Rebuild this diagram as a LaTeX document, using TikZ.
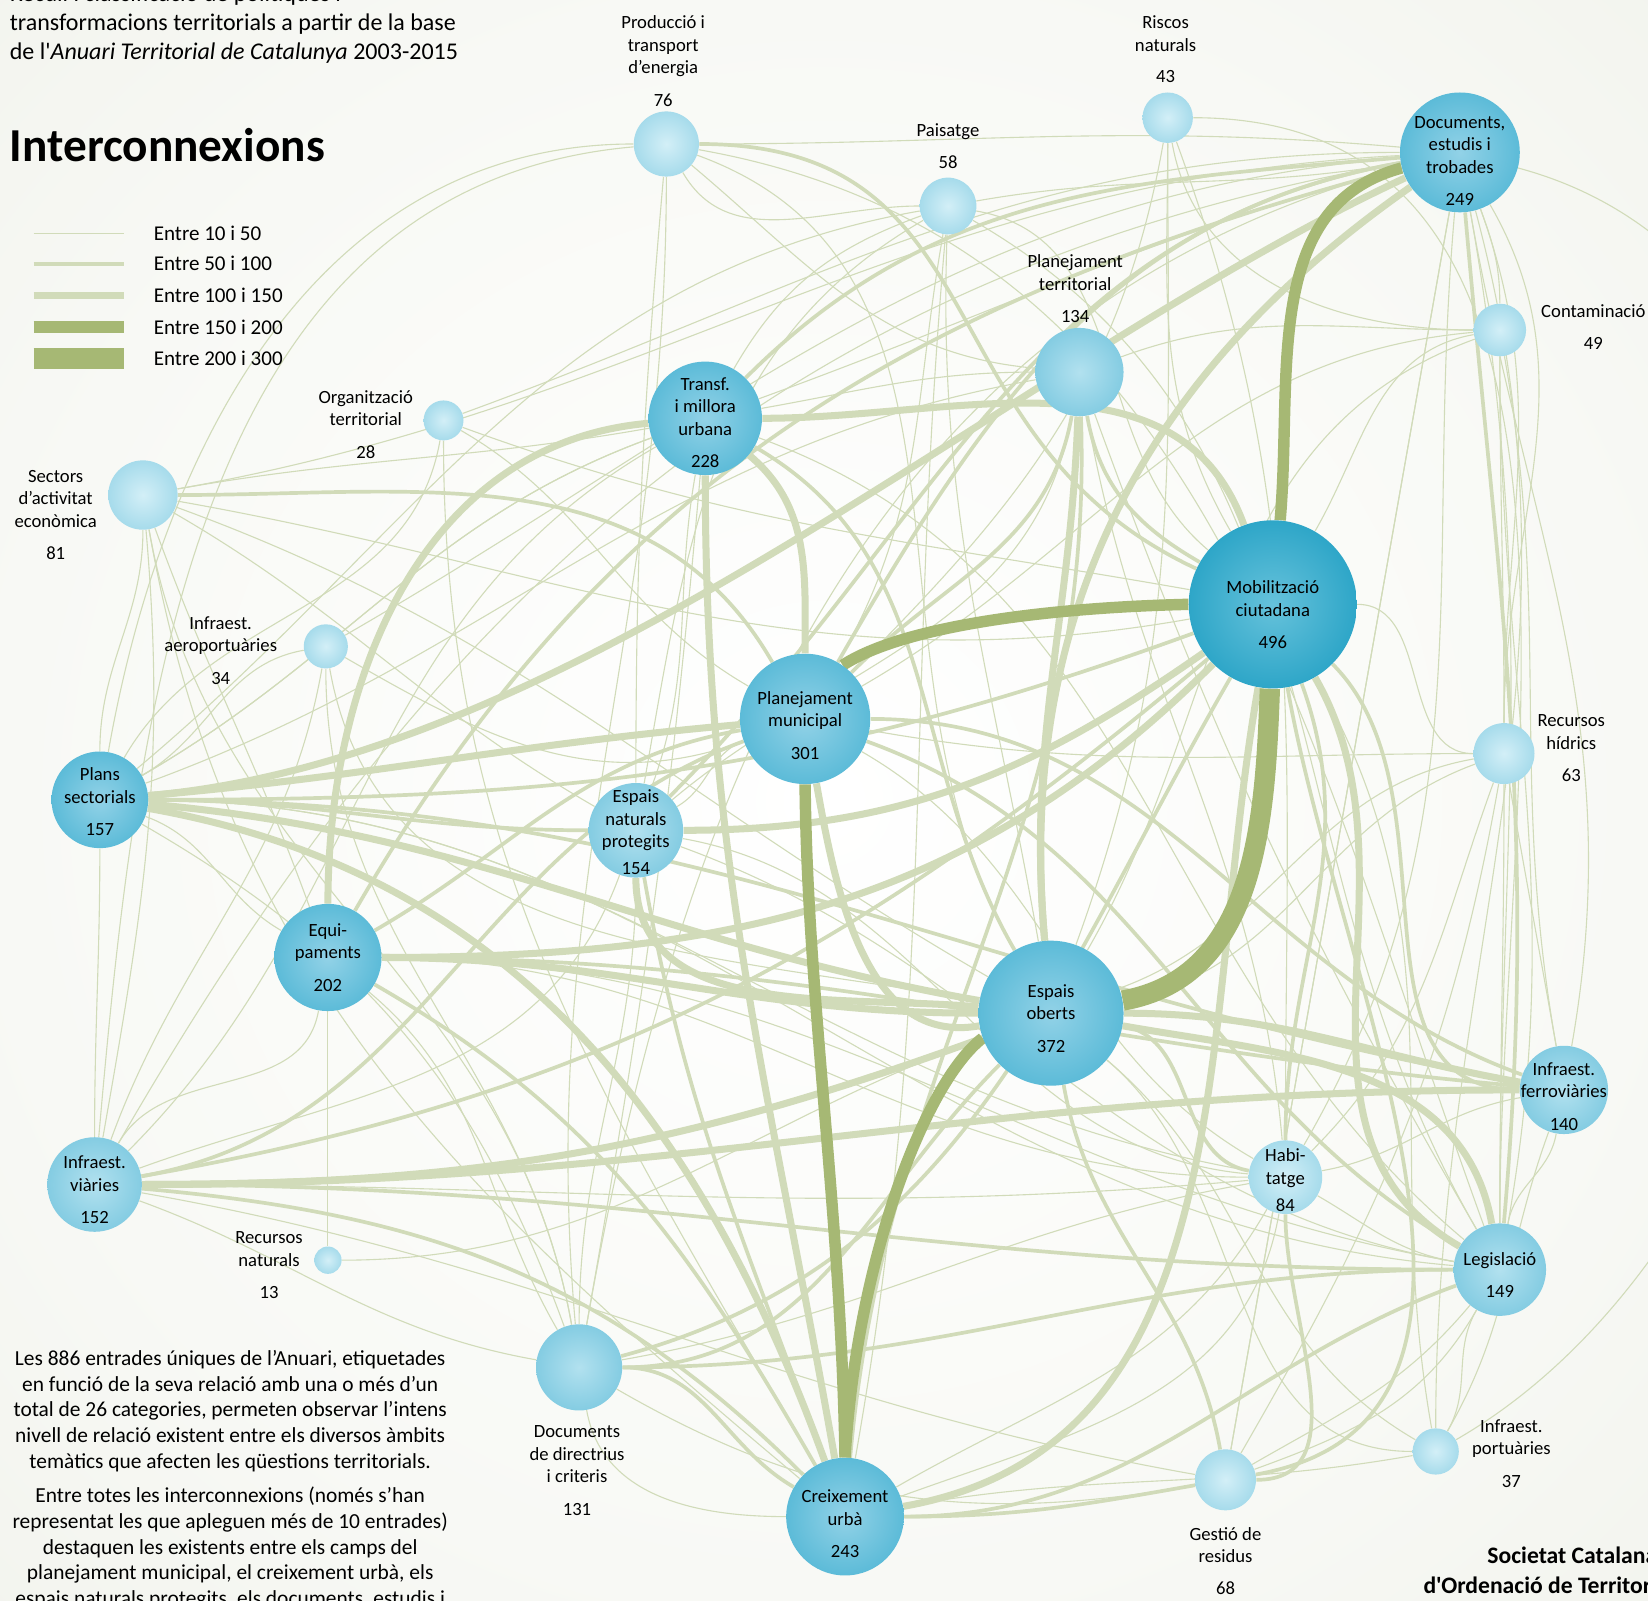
\documentclass[tikz,border=0pt]{standalone}
\usepackage{fontspec}
\setmainfont{Carlito}[Ligatures=TeXOff]

\definecolor{linkpale}{HTML}{D1DBB9}
\definecolor{linkdark}{HTML}{A6B874}
\definecolor{mobin}{HTML}{66C2DB}
\definecolor{mobout}{HTML}{2EA6C8}
\definecolor{bigin}{HTML}{92D2E7}
\definecolor{bigout}{HTML}{5CBBD8}
\definecolor{midin}{HTML}{B2E1EF}
\definecolor{midout}{HTML}{84CCE2}
\definecolor{smlin}{HTML}{D3EFF7}
\definecolor{smlout}{HTML}{A6DBEB}
\definecolor{papermid}{HTML}{F8F9F5}
\definecolor{paperedge}{HTML}{ECEEE6}

\pgfdeclareradialshading{paper}{\pgfpoint{0bp}{0bp}}{color(0bp)=(white); color(25bp)=(papermid); color(50bp)=(paperedge); color(72bp)=(paperedge)}

\pgfdeclarelayer{bg}
\pgfdeclarelayer{links}
\pgfsetlayers{bg,links,main}

\tikzset{
  l10/.style={draw=linkpale, line width=0.6pt},
  l50/.style={draw=linkpale, line width=2pt},
  l100/.style={draw=linkpale, line width=3.8pt},
  l150/.style={draw=linkdark, line width=6.2pt},
  l200/.style={draw=linkdark, line width=11pt},
  bub/.style={circle, draw=none, inner sep=0pt, shading=radial},
  hue1/.style={bub, inner color=mobin, outer color=mobout},
  hue2/.style={bub, inner color=bigin, outer color=bigout},
  hue3/.style={bub, inner color=midin, outer color=midout},
  hue4/.style={bub, inner color=smlin, outer color=smlout},
  tag/.style={align=center, inner sep=0pt, font=\fontsize{10.1}{12.2}\selectfont},
  keytxt/.style={anchor=west, inner sep=0pt, font=\fontsize{11.4}{13.5}\selectfont}
}

\begin{document}
\begin{tikzpicture}[x=0.02cm, y=-0.02cm]
\useasboundingbox (0,0) rectangle (1568,1523);

% categories
\node[hue4, minimum size=1.24cm] (ene) at (634,137) {};
\node[hue4, minimum size=1.08cm] (pai) at (902,196) {};
\node[hue4, minimum size=0.96cm] (ris) at (1111,112) {};
\node[hue2, minimum size=2.28cm] (doc) at (1389,145) {};
\node[hue4, minimum size=1.00cm] (con) at (1427,314) {};
\node[hue3, minimum size=1.68cm] (pte) at (1027,354) {};
\node[hue2, minimum size=2.16cm] (tra) at (671,398) {};
\node[hue4, minimum size=0.76cm] (org) at (422,400) {};
\node[hue4, minimum size=1.32cm] (sec) at (136,471) {};
\node[hue1, minimum size=3.20cm] (mob) at (1211,575) {};
\node[hue4, minimum size=0.84cm] (aer) at (310,615) {};
\node[hue2, minimum size=2.48cm] (pmu) at (766,684) {};
\node[hue4, minimum size=1.16cm] (hid) at (1431,717) {};
\node[hue2, minimum size=1.84cm] (psec) at (95,761) {};
\node[hue3, minimum size=1.80cm] (enp) at (605,790) {};
\node[hue2, minimum size=2.04cm] (equ) at (312,911) {};
\node[hue2, minimum size=2.76cm] (eob) at (1000,964) {};
\node[hue3, minimum size=1.68cm] (fer) at (1488,1037) {};
\node[hue3, minimum size=1.80cm] (via) at (90,1127) {};
\node[hue4, minimum size=1.40cm] (hab) at (1223,1120) {};
\node[hue4, minimum size=0.52cm] (rna) at (312,1199) {};
\node[hue3, minimum size=1.76cm] (leg) at (1427,1208) {};
\node[hue3, minimum size=1.64cm] (ddc) at (551,1301) {};
\node[hue2, minimum size=2.24cm] (cre) at (804,1443) {};
\node[hue4, minimum size=1.16cm] (res) at (1166,1408) {};
\node[hue4, minimum size=0.88cm] (por) at (1366,1381) {};

% texts inside the bubbles
\node[tag] (doc-t) at (1389,153) {Documents,\\estudis i\\trobades\\[5.4pt]249};
\node[tag] (tra-t) at (671,402) {Transf.\\i millora\\urbana\\[5.4pt]228};
\node[tag] (mob-t) at (1211,585) {Mobilització\\ciutadana\\[5.4pt]496};
\node[tag] (pmu-t) at (766,690) {Planejament\\municipal\\[5.4pt]301};
\node[tag] (psec-t) at (95,763) {Plans\\sectorials\\[5.4pt]157};
\node[tag] (enp-t) at (605,792) {Espais\\naturals\\protegits\\[2.6pt]154};
\node[tag] (equ-t) at (312,911) {Equi-\\paments\\[5.4pt]202};
\node[tag] (eob-t) at (1000,969) {Espais\\oberts\\[5.4pt]372};
\node[tag] (fer-t) at (1488,1043) {Infraest.\\ferroviàries\\[5.4pt]140};
\node[tag] (via-t) at (90,1132) {Infraest.\\viàries\\[5.4pt]152};
\node[tag] (hab-t) at (1223,1123) {Habi-\\tatge\\[2.6pt]84};
\node[tag] (leg-t) at (1427,1213) {Legislació\\[5.4pt]149};
\node[tag] (cre-t) at (804,1450) {Creixement\\urbà\\[5.4pt]243};

% texts beside the bubbles
\node[tag] (ene-t) at (631,58) {Producció i\\transport\\d’energia\\[5.4pt]76};
\node[tag] (pai-t) at (902,139) {Paisatge\\[5.4pt]58};
\node[tag] (ris-t) at (1109,47) {Riscos\\naturals\\[4.8pt]43};
\node[tag] (con-t) at (1516,311) {Contaminació\\[5.4pt]49};
\node[tag] (pte-t) at (1023,275) {Planejament\\territorial\\[5.4pt]134};
\node[tag] (org-t) at (348,404) {Organització\\territorial\\[5.4pt]28};
\node[tag] (sec-t) at (53,490) {Sectors\\d’activitat\\econòmica\\[5.4pt]81};
\node[tag] (aer-t) at (210,619) {Infraest.\\aeroportuàries\\[5.4pt]34};
\node[tag] (hid-t) at (1495,712) {Recursos\\hídrics\\[5.4pt]63};
\node[tag] (rna-t) at (256,1204) {Recursos\\naturals\\[5.4pt]13};
\node[tag] (ddc-t) at (549,1399) {Documents\\de directrius\\i criteris\\[5.4pt]131};
\node[tag] (res-t) at (1166,1485) {Gestió de\\residus\\[4.8pt]68};
\node[tag] (por-t) at (1438,1383) {Infraest.\\portuàries\\[5.4pt]37};

% headings and notes
\node[anchor=west, align=left, inner sep=0pt, font=\fontsize{13}{15.9}\selectfont] (head) at (9,23)
  {Recull i classificació de polítiques i\\transformacions territorials a partir de la base\\de l'\textit{Anuari Territorial de Catalunya} 2003-2015};
\node[anchor=west, inner sep=0pt, font=\fontsize{25.6}{30}\selectfont\bfseries] (title) at (9,138) {Interconnexions};
\node[align=center, inner sep=0pt, font=\fontsize{11.6}{13.9}\selectfont] (note) at (219,1408)
  {Les 886 entrades úniques de l’Anuari, etiquetades\\en funció de la seva relació amb una o més d’un\\total de 26 categories, permeten observar l’intens\\nivell de relació existent entre els diversos àmbits\\temàtics que afecten les qüestions territorials.\\[4.8pt]
   Entre totes les interconnexions (només s’han\\representat les que apleguen més de 10 entrades)\\destaquen les existents entre els camps del\\planejament municipal, el creixement urbà, els\\espais naturals protegits, els documents, estudis i};
\node[anchor=east, align=right, inner sep=0pt, font=\fontsize{12.8}{16.5}\selectfont\bfseries] (credit) at (1577,1494)
  {Societat Catalana\\d'Ordenació de Territori};

% legend
\draw[linkpale, line width=0.6pt] (32,222) -- (118,222);
\draw[linkpale, line width=2.2pt] (32,251) -- (118,251);
\draw[linkpale, line width=3.8pt] (32,281) -- (118,281);
\draw[linkdark, line width=6.5pt] (32,311) -- (118,311);
\draw[linkdark, line width=11.4pt] (32,341) -- (118,341);
\node[keytxt] (k10) at (146,222) {Entre 10 i 50};
\node[keytxt] (k50) at (146,251) {Entre 50 i 100};
\node[keytxt] (k100) at (146,281) {Entre 100 i 150};
\node[keytxt] (k150) at (146,311) {Entre 150 i 200};
\node[keytxt] (k200) at (146,341) {Entre 200 i 300};

\begin{pgfonlayer}{bg}
\shade[shading=paper] (0,0) rectangle (1568,1523);
\end{pgfonlayer}

\begin{pgfonlayer}{links}
% 10 to 50
\draw[l10] (ene) to[out=0,in=175] (doc);
\draw[l10] (ene) to[out=-60,in=180] (pai);
\draw[l10] (ene) to[out=-40,in=175] (pte);
\draw[l10] (ene) to[out=180,in=80] (psec);
\draw[l10] (ene) to[out=185,in=85] (via);
\draw[l10] (ene) to[out=-95,in=90] (enp);
\draw[l10] (ene) to[out=-90,in=95] (ddc);
\draw[l10] (ene) to[out=-20,in=120] (eob);
\draw[l10] (ene) to[out=-10,in=110] (leg);
\draw[l10] (pai) to[out=10,in=190] (doc);
\draw[l10] (pai) to[out=-10,in=140] (mob);
\draw[l10] (pai) to[out=-92,in=100] (eob);
\draw[l10] (pai) to[out=200,in=60] (tra);
\draw[l10] (pai) to[out=210,in=80] (enp);
\draw[l10] (pai) to[out=-95,in=80] (cre);
\draw[l10] (pai) to[out=190,in=40] (psec);
\draw[l10] (pai) to[out=-30,in=120] (leg);
\draw[l10] (pai) to[out=-100,in=60] (pmu);
\draw[l10] (ris) to[out=0,in=90] (leg);
\draw[l10] (ris) to[out=-70,in=90] (hab);
\draw[l10] (ris) to[out=-90,in=70] (eob);
\draw[l10] (ris) to[out=-90,in=120] (mob);
\draw[l10] (ris) to[out=-100,in=45] (pmu);
\draw[l10] (ris) to[out=-80,in=180] (con);
\draw[l10] (doc) to[out=180,in=20] (org);
\draw[l10] (doc) to[out=183,in=10] (sec);
\draw[l10] (doc) to[out=185,in=30] (aer);
\draw[l10] (doc) to[out=-80,in=80] (fer);
\draw[l10] (doc) to[out=-60,in=90] (hid);
\draw[l10] (doc) to[out=-70,in=90] (con);
\draw[l10] (doc) to[out=-100,in=80] (res);
\draw[l10] (doc) to[out=-95,in=60] (hab);
\draw[l10] (doc) to[out=-15,in=30] (por);
\draw[l10] (doc) to[out=190,in=60] (via);
\draw[l10] (doc) to[out=195,in=80] (ddc);
\draw[l10] (con) to[out=180,in=20] (pte);
\draw[l10] (con) to[out=190,in=60] (mob);
\draw[l10] (con) to[out=-90,in=80] (leg);
\draw[l10] (con) to[out=200,in=60] (eob);
\draw[l10] (con) to[out=-80,in=100] (fer);
\draw[l10] (con) to[out=185,in=30] (pmu);
\draw[l10] (pte) to[out=-100,in=40] (enp);
\draw[l10] (pte) to[out=180,in=10] (tra);
\draw[l10] (pte) to[out=-80,in=95] (hab);
\draw[l10] (pte) to[out=190,in=20] (psec);
\draw[l10] (pte) to[out=-70,in=120] (leg);
\draw[l10] (tra) to[out=190,in=10] (sec);
\draw[l10] (tra) to[out=200,in=30] (psec);
\draw[l10] (tra) to[out=-100,in=70] (enp);
\draw[l10] (tra) to[out=210,in=45] (via);
\draw[l10] (tra) to[out=-95,in=80] (ddc);
\draw[l10] (tra) to[out=20,in=195] (doc);
\draw[l10] (tra) to[out=-20,in=140] (leg);
\draw[l10] (org) to[out=-90,in=120] (cre);
\draw[l10] (org) to[out=-30,in=150] (pmu);
\draw[l10] (org) to[out=-100,in=60] (psec);
\draw[l10] (org) to[out=-20,in=170] (mob);
\draw[l10] (sec) to[out=-90,in=90] (psec);
\draw[l10] (sec) to[out=-85,in=80] (via);
\draw[l10] (sec) to[out=-10,in=190] (mob);
\draw[l10] (sec) to[out=-20,in=150] (eob);
\draw[l10] (sec) to[out=-30,in=150] (enp);
\draw[l10] (sec) to[out=-70,in=110] (equ);
\draw[l10] (sec) to[out=-80,in=140] (cre);
\draw[l10] (sec) to[out=-80,in=100] (ddc);
\draw[l10] (aer) to[out=-100,in=70] (via);
\draw[l10] (aer) to[out=190,in=30] (psec);
\draw[l10] (aer) to[out=-30,in=200] (pmu);
\draw[l10] (aer) to[out=-80,in=170] (eob);
\draw[l10] (aer) to[out=-90,in=100] (ddc);
\draw[l10] (hid) to[out=90,in=-70] (doc);
\draw[l10] (hid) to[out=180,in=0] (mob);
\draw[l10] (hid) to[out=190,in=20] (eob);
\draw[l10] (hid) to[out=-90,in=90] (leg);
\draw[l10] (hid) to[out=-100,in=60] (res);
\draw[l10] (hid) to[out=-80,in=100] (fer);
\draw[l10] (hid) to[out=180,in=-10] (pmu);
\draw[l10] (hid) to[out=-110,in=45] (hab);
\draw[l10] (hid) to[out=90,in=-90] (con);
\draw[l10] (psec) to[out=-90,in=90] (via);
\draw[l10] (psec) to[out=-20,in=150] (equ);
\draw[l10] (psec) to[out=-30,in=110] (ddc);
\draw[l10] (psec) to[out=0,in=170] (hab);
\draw[l10] (psec) to[out=0,in=175] (leg);
\draw[l10] (psec) to[out=30,in=200] (tra);
\draw[l10] (enp) to[out=-90,in=90] (ddc);
\draw[l10] (enp) to[out=-110,in=20] (via);
\draw[l10] (enp) to[out=-20,in=170] (leg);
\draw[l10] (enp) to[out=-10,in=175] (hab);
\draw[l10] (enp) to[out=30,in=200] (pmu);
\draw[l10] (equ) to[out=-100,in=60] (via);
\draw[l10] (equ) to[out=-40,in=120] (ddc);
\draw[l10] (equ) to[out=0,in=180] (hab);
\draw[l10] (equ) to[out=0,in=170] (leg);
\draw[l10] (equ) to[out=-90,in=90] (rna);
\draw[l10] (eob) to[out=-40,in=150] (por);
\draw[l10] (eob) to[out=10,in=200] (hid);
\draw[l10] (fer) to[out=-100,in=80] (leg);
\draw[l10] (fer) to[out=-110,in=60] (por);
\draw[l10] (fer) to[out=190,in=10] (hab);
\draw[l10] (via) to[out=-20,in=170] (ddc);
\draw[l10] (via) to[out=0,in=185] (hab);
\draw[l10] (via) to[out=-10,in=170] (res);
\draw[l10] (hab) to[out=-30,in=170] (leg);
\draw[l10] (hab) to[out=-120,in=30] (cre);
\draw[l10] (hab) to[out=150,in=-30] (pmu);
\draw[l10] (rna) to[out=0,in=200] (eob);
\draw[l10] (leg) to[out=-120,in=60] (por);
\draw[l10] (leg) to[out=-130,in=30] (res);
\draw[l10] (leg) to[out=90,in=-80] (doc);
\draw[l10] (ddc) to[out=-30,in=190] (res);
\draw[l10] (ddc) to[out=10,in=190] (hab);
\draw[l10] (ddc) to[out=-80,in=180] (cre);
\draw[l10] (cre) to[out=20,in=-100] (hab);
\draw[l10] (cre) to[out=10,in=190] (por);
\draw[l10] (res) to[out=80,in=-100] (doc);
\draw[l10] (res) to[out=20,in=-120] (leg);
\draw[l10] (por) to[out=90,in=-75] (doc);
\draw[l10] (por) to[out=100,in=-60] (mob);
\draw[l10] (por) to[out=180,in=-40] (eob);
% 50 to 100
\draw[l50] (ene) to[out=0,in=155,looseness=1.2] (mob);
\draw[l50] (sec) to[out=0,in=120] (pmu);
\draw[l50] (doc) to[out=185,in=45] (tra);
\draw[l50] (doc) to[out=190,in=45] (enp);
\draw[l50] (doc) to[out=195,in=60] (equ);
\draw[l50] (doc) to[out=190,in=60] (pmu);
\draw[l50] (doc) to[out=-85,in=85] (leg);
\draw[l50] (pte) to[out=-100,in=45] (pmu);
\draw[l50] (pte) to[out=-88,in=85] (cre);
\draw[l50] (pte) to[out=-80,in=150] (mob);
\draw[l50] (tra) to[out=-30,in=120] (eob);
\draw[l50] (psec) to[out=0,in=180] (enp);
\draw[l50] (enp) to[out=-80,in=110] (cre);
\draw[l50] (equ) to[out=30,in=190] (pmu);
\draw[l50] (equ) to[out=0,in=175] (fer);
\draw[l50] (equ) to[out=-30,in=120] (cre);
\draw[l50] (psec) to[out=0,in=170] (fer);
\draw[l50] (psec) to[out=0,in=200] (mob);
\draw[l50] (pmu) to[out=0,in=160] (fer);
\draw[l50] (pmu) to[out=-20,in=150] (leg);
\draw[l50] (pmu) to[out=200,in=10] (via);
\draw[l50] (mob) to[out=-45,in=180] (fer);
\draw[l50] (eob) to[out=-80,in=100] (res);
\draw[l50] (eob) to[out=-10,in=170] (hab);
\draw[l50] (hab) to[out=90,in=-70] (mob);
\draw[l50] (via) to[out=0,in=180] (leg);
\draw[l50] (via) to[out=-5,in=135] (cre);
\draw[l50] (via) to[out=10,in=220] (mob);
\draw[l50] (ddc) to[out=0,in=225] (eob);
\draw[l50] (ddc) to[out=0,in=150] (cre);
\draw[l50] (ddc) to[out=0,in=180] (leg);
\draw[l50] (ddc) to[out=15,in=240] (mob);
\draw[l50] (cre) to[out=0,in=200] (leg);
\draw[l50] (cre) to[out=0,in=190] (res);
\draw[l50] (res) to[out=0,in=-90] (hab);
\draw[l50] (res) to[out=10,in=-80] (mob);
% 100 to 150
\draw[l100] (tra) to[out=0,in=110] (mob);
\draw[l100] (tra) to[out=-40,in=90] (pmu);
\draw[l100] (doc) to[out=205,in=5,looseness=0.8] (psec);
\draw[l100] (doc) to[out=215,in=95] (eob);
\draw[l100] (equ) to[out=90,in=185] (tra);
\draw[l100] (psec) to[out=5,in=185] (pmu);
\draw[l100] (enp) to[out=0,in=215] (mob);
\draw[l100] (equ) to[out=0,in=225] (mob);
\draw[l100] (equ) to[out=0,in=180] (eob);
\draw[l100] (enp) to[out=-90,in=175] (eob);
\draw[l100] (psec) to[out=-5,in=170] (eob);
\draw[l100] (pte) to[out=-92,in=95] (eob);
\draw[l100] (pmu) to[out=-80,in=190] (eob);
\draw[l100] (psec) to[out=-10,in=110] (cre);
\draw[l100] (tra) to[out=-90,in=100] (cre);
\draw[l100] (mob) to[out=-100,in=10] (cre);
\draw[l100] (mob) to[out=-60,in=150] (leg);
\draw[l100] (eob) to[out=-10,in=100] (leg);
\draw[l100] (via) to[out=0,in=180] (fer);
\draw[l100] (via) to[out=0,in=200] (eob);
\draw[l100] (eob) to[out=0,in=170] (fer);
% 150 and more
\draw[l150] (doc) to[out=195,in=85] (mob);
\draw[l200] (mob) to[out=-92,in=10] (eob);
\draw[l150] (mob.west) .. controls (1000,578) and (860,595) .. (pmu.55);
\draw[l150] (pmu.south) .. controls (768,950) and (800,1150) .. (cre.north);
\draw[l150] (eob.200) .. controls (880,1030) and (815,1200) .. (cre.north);
\end{pgfonlayer}
\end{tikzpicture}
\end{document}
